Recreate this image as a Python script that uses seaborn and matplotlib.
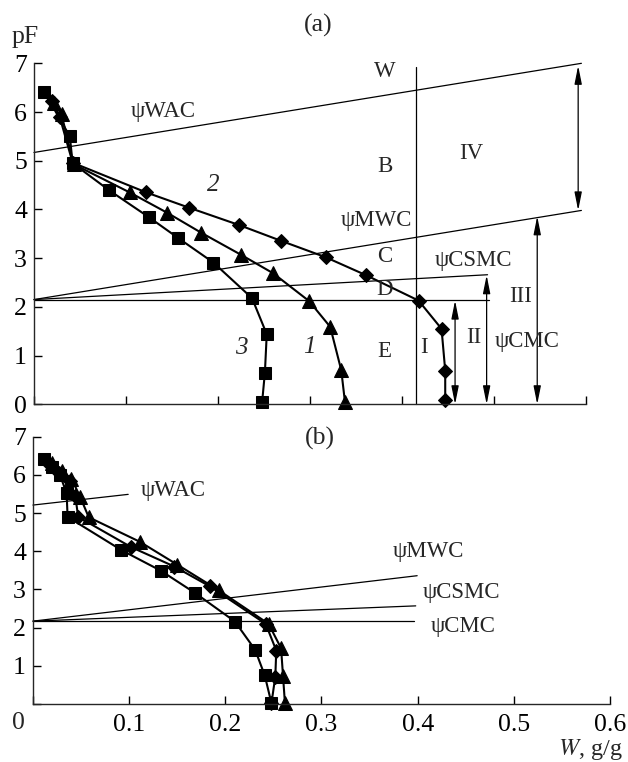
import matplotlib
matplotlib.use("Agg")
import matplotlib.pyplot as plt
import seaborn as sns
import numpy as np

# ---- panel (a) curves: W (g/g) vs pF ----
a1_w = [0.022, 0.030, 0.043, 0.104, 0.145, 0.182, 0.225, 0.260, 0.299, 0.322, 0.334, 0.338]
a1_pf = [6.18, 5.95, 4.93, 4.35, 3.93, 3.52, 3.07, 2.69, 2.12, 1.59, 0.70, 0.05]
a2_w = [0.020, 0.028, 0.042, 0.122, 0.168, 0.223, 0.268, 0.317, 0.361, 0.418, 0.443, 0.447, 0.447]
a2_pf = [6.22, 5.90, 4.96, 4.35, 4.04, 3.68, 3.36, 3.02, 2.65, 2.13, 1.55, 0.69, 0.09]
a3_w = [0.011, 0.039, 0.042, 0.082, 0.125, 0.157, 0.195, 0.237, 0.253, 0.251, 0.248]
a3_pf = [6.42, 5.50, 4.95, 4.39, 3.84, 3.41, 2.91, 2.18, 1.44, 0.65, 0.05]

# ---- panel (b) curves ----
b1_w = [0.020, 0.030, 0.040, 0.049, 0.058, 0.111, 0.150, 0.193, 0.245, 0.258, 0.260, 0.262]
b1_pf = [6.30, 6.10, 5.90, 5.43, 4.89, 4.25, 3.65, 2.98, 2.10, 1.46, 0.74, 0.02]
b2_w = [0.018, 0.027, 0.038, 0.044, 0.047, 0.102, 0.147, 0.184, 0.242, 0.253, 0.252, 0.248]
b2_pf = [6.25, 6.05, 5.85, 5.45, 4.90, 4.11, 3.60, 3.08, 2.10, 1.40, 0.72, 0.02]
b3_w = [0.011, 0.020, 0.028, 0.035, 0.036, 0.092, 0.133, 0.169, 0.210, 0.231, 0.241, 0.248]
b3_pf = [6.42, 6.20, 6.00, 5.52, 4.90, 4.03, 3.49, 2.90, 2.16, 1.42, 0.75, 0.02]

# ---- guide lines (x pair, y pair) ----
a_wac = ([0.0, 0.595], [5.17, 7.0])
a_mwc = ([0.0, 0.595], [2.15, 3.98])
a_csmc = ([0.0, 0.493], [2.15, 2.66])
a_cmc = ([0.0, 0.495], [2.15, 2.15])
a_wline = ([0.4155, 0.4155], [0.0, 6.93])

b_wac = ([0.0, 0.099], [5.21, 5.49])
b_mwc = ([0.0, 0.3995], [2.17, 3.36])
b_csmc = ([0.0, 0.398], [2.17, 2.57])
b_cmc = ([0.0, 0.396], [2.17, 2.17])

# double arrows in (a): x, y from, y to
arrows = [(0.5915, 3.98, 6.95), (0.547, 0.0, 3.86), (0.492, 0.0, 2.65), (0.4577, 0.0, 2.13)]

sns.set_style("ticks")
plt.rcParams['font.family'] = ['Liberation Serif', 'DejaVu Serif']
plt.rcParams['mathtext.fontset'] = 'stix'

fig = plt.figure(figsize=(6.28, 7.62), dpi=100)
ax1 = fig.add_axes([0.0541, 0.4694, 0.879, 0.4475])
ax2 = fig.add_axes([0.0525, 0.0761, 0.9188, 0.3508])

mk = dict(color='black', linewidth=1.5, markeredgecolor='black', clip_on=False,
          sort=False, estimator=None, legend=False)

def curves(ax, data):
    for w, pf, m, ms in data:
        sns.lineplot(x=w, y=pf, marker=m, markersize=ms, ax=ax, **mk)

curves(ax1, [(a1_w, a1_pf, '^', 9.5), (a2_w, a2_pf, 'D', 6.8), (a3_w, a3_pf, 's', 8.5)])
curves(ax2, [(b1_w, b1_pf, '^', 9.5), (b2_w, b2_pf, 'D', 6.8), (b3_w, b3_pf, 's', 8.5)])

for ln in [a_wac, a_mwc, a_csmc, a_cmc, a_wline]:
    ax1.plot(ln[0], ln[1], color='black', lw=0.9, clip_on=False)
for ln in [b_wac, b_mwc, b_csmc, b_cmc]:
    ax2.plot(ln[0], ln[1], color='black', lw=0.9, clip_on=False)

for x, y0, y1 in arrows:
    ax1.annotate('', xy=(x, y0), xytext=(x, y1),
                 arrowprops=dict(arrowstyle='<|-|>,head_length=1.1,head_width=0.22',
                                 color='black', lw=0.9, shrinkA=0, shrinkB=0,
                                 mutation_scale=10))

fs = 16.5
lab_a = [("ψWAC", 0.140, 6.01), ("W", 0.381, 6.83), ("B", 0.381, 4.88), ("IV", 0.475, 5.15),
         ("ψMWC", 0.372, 3.78), ("C", 0.381, 3.03), ("ψCSMC", 0.478, 2.96),
         ("D", 0.381, 2.36), ("III", 0.529, 2.22), ("II", 0.478, 1.37),
         ("ψCMC", 0.536, 1.29), ("E", 0.381, 1.08), ("I", 0.424, 1.16)]
for t, x, y in lab_a:
    ax1.text(x, y, t, fontsize=fs, ha='center', va='center')
for t, x, y in [("2", 0.1945, 4.5), ("3", 0.225, 1.15), ("1", 0.2995, 1.18)]:
    ax1.text(x, y, t, fontsize=18, ha='center', va='center', style='italic')

lab_b = [("ψWAC", 0.146, 5.58), ("ψMWC", 0.411, 3.99), ("ψCSMC", 0.4457, 2.92), ("ψCMC", 0.447, 2.04)]
for t, x, y in lab_b:
    ax2.text(x, y, t, fontsize=fs, ha='center', va='center')

for ax in (ax1, ax2):
    ax.set_xlim(0, 0.6)
    ax.set_ylim(0, 7)
    sns.despine(ax=ax)
    ax.spines['left'].set_linewidth(1.0)
    ax.spines['bottom'].set_linewidth(1.0)
    ax.tick_params(direction='in', length=6, width=1.0, labelsize=18.5, pad=5, colors='black')
    ax.set_xticks([0.0, 0.1, 0.2, 0.3, 0.4, 0.5, 0.6])
    ax.set_xlabel('')
    ax.set_ylabel('')

ax1.set_yticks(range(0, 8))
ax1.set_xticklabels([])
ax2.set_yticks(range(0, 8))
ax2.set_yticklabels([''] + [str(i) for i in range(1, 8)])
ax2.set_xticklabels(['', '0.1', '0.2', '0.3', '0.4', '0.5', '0.6'])
ax2.tick_params(axis='x', pad=7)

fig.text(18 / 628, 1 - 723 / 762, "0", fontsize=18.5, ha='center', va='center')
fig.text(25 / 628, 1 - 37 / 762, "pF", fontsize=18.5, ha='center', va='center')
fig.text(318 / 628, 1 - 25 / 762, "(a)", fontsize=18.5, ha='center', va='center')
fig.text(320 / 628, 1 - 438 / 762, "(b)", fontsize=18.5, ha='center', va='center')
fig.text(623 / 628, 1 - 750 / 762, r"$W$, g/g", fontsize=17.5, ha='right', va='center')

fig.savefig("out.png", dpi=100)
